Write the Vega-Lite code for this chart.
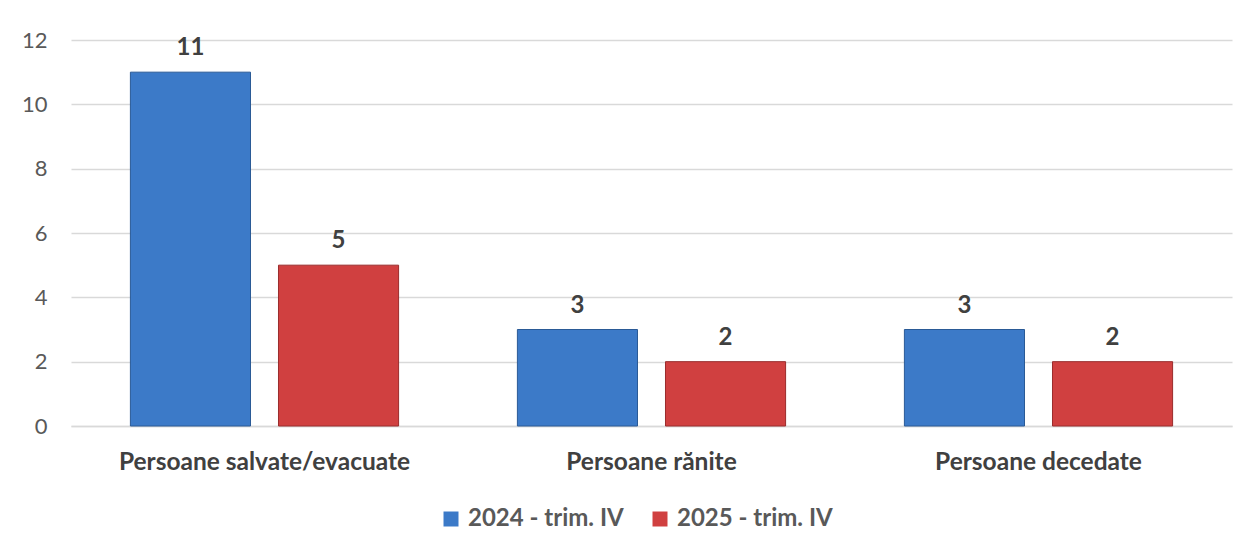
{
  "$schema": "https://vega.github.io/schema/vega-lite/v6.json",
  "width": 1161,
  "height": 386,
  "autosize": {"type": "none"},
  "padding": {"left": 71, "top": 40, "right": 17, "bottom": 124},
  "background": "white",
  "config": {
    "font": "Lato",
    "view": {"stroke": null},
    "axis": {"labelFont": "Lato"},
    "legend": {"labelFont": "Lato"}
  },
  "data": {
    "values": [
      {"categorie": "Persoane salvate/evacuate", "perioada": "2024 - trim. IV", "valoare": 11},
      {"categorie": "Persoane salvate/evacuate", "perioada": "2025 - trim. IV", "valoare": 5},
      {"categorie": "Persoane rănite", "perioada": "2024 - trim. IV", "valoare": 3},
      {"categorie": "Persoane rănite", "perioada": "2025 - trim. IV", "valoare": 2},
      {"categorie": "Persoane decedate", "perioada": "2024 - trim. IV", "valoare": 3},
      {"categorie": "Persoane decedate", "perioada": "2025 - trim. IV", "valoare": 2}
    ]
  },
  "encoding": {
    "x": {
      "field": "categorie",
      "type": "nominal",
      "sort": null,
      "scale": {"paddingInner": 0.307, "paddingOuter": 0.1535},
      "axis": {
        "title": null,
        "labelAngle": 0,
        "labelFontSize": 24.5,
        "labelFontWeight": "bold",
        "labelColor": "#404040",
        "labelPadding": 24,
        "labelLimit": 0,
        "ticks": false,
        "domainColor": "#D9D9D9",
        "domainWidth": 1.5
      }
    },
    "xOffset": {
      "field": "perioada",
      "type": "nominal",
      "scale": {"paddingInner": 0.189, "paddingOuter": 0}
    },
    "y": {
      "field": "valoare",
      "type": "quantitative",
      "scale": {"domain": [0, 12], "nice": false},
      "axis": {
        "title": null,
        "values": [0, 2, 4, 6, 8, 10, 12],
        "labelFontSize": 22,
        "labelColor": "#595959",
        "labelPadding": 24,
        "ticks": false,
        "domain": false,
        "gridColor": "#D9D9D9",
        "gridWidth": 1.5
      }
    }
  },
  "layer": [
    {
      "mark": {"type": "bar", "strokeWidth": 1},
      "encoding": {
        "color": {
          "field": "perioada",
          "type": "nominal",
          "scale": {"domain": ["2024 - trim. IV", "2025 - trim. IV"], "range": ["#3C7AC8", "#D04040"]},
          "legend": {
            "title": null,
            "orient": "none",
            "direction": "horizontal",
            "legendX": 368,
            "legendY": 467,
            "symbolType": "square",
            "symbolSize": 225,
            "symbolStrokeWidth": 0,
            "labelFontSize": 24,
            "labelFontWeight": "bold",
            "labelColor": "#595959",
            "labelOffset": 5,
            "columnPadding": 24
          }
        },
        "stroke": {
          "field": "perioada",
          "type": "nominal",
          "scale": {"domain": ["2024 - trim. IV", "2025 - trim. IV"], "range": ["#2A5A96", "#9A2C2C"]},
          "legend": null
        }
      }
    },
    {
      "mark": {"type": "text", "baseline": "bottom", "dy": -12, "fontSize": 24, "fontWeight": "bold", "color": "#404040"},
      "encoding": {
        "text": {"field": "valoare", "type": "quantitative"}
      }
    }
  ]
}
